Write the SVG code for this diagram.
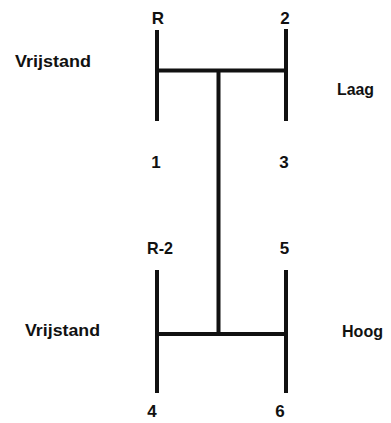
<svg xmlns="http://www.w3.org/2000/svg" width="391" height="423" viewBox="0 0 391 423">
<style>
.t{font-family:"Liberation Sans",Arial,sans-serif;font-weight:bold;font-size:17px;fill:#111;}
.c{text-anchor:middle;}
.l{stroke:#111;stroke-width:4;fill:none;stroke-linecap:butt;}
</style>
<rect width="391" height="423" fill="#fff"/>
<g id="connectors">
<line class="l" x1="157" y1="30" x2="157" y2="121"/>
<line class="l" x1="286" y1="29" x2="286" y2="121"/>
<line class="l" x1="157" y1="70.5" x2="286" y2="70.5"/>
<line class="l" x1="218.5" y1="70.5" x2="218.5" y2="334"/>
<line class="l" x1="157" y1="270" x2="157" y2="393"/>
<line class="l" x1="286" y1="270" x2="286" y2="393"/>
<line class="l" x1="157" y1="334" x2="286" y2="334"/>
</g>
<g id="label-R"><text class="t c" x="158" y="24">R</text></g>
<g id="label-2"><text class="t c" x="285" y="24">2</text></g>
<g id="label-vrijstand-top"><text class="t" x="15" y="67" textLength="76" lengthAdjust="spacingAndGlyphs">Vrijstand</text></g>
<g id="label-laag"><text class="t" x="337" y="95" textLength="37" lengthAdjust="spacingAndGlyphs">Laag</text></g>
<g id="label-1"><text class="t c" x="156" y="168">1</text></g>
<g id="label-3"><text class="t c" x="284" y="168">3</text></g>
<g id="label-R-2"><text class="t" x="147" y="254" textLength="26" lengthAdjust="spacingAndGlyphs">R-2</text></g>
<g id="label-5"><text class="t c" x="284.5" y="254">5</text></g>
<g id="label-vrijstand-bottom"><text class="t" x="25" y="336" textLength="75" lengthAdjust="spacingAndGlyphs">Vrijstand</text></g>
<g id="label-hoog"><text class="t" x="342" y="337" textLength="41" lengthAdjust="spacingAndGlyphs">Hoog</text></g>
<g id="label-4"><text class="t c" x="152" y="417">4</text></g>
<g id="label-6"><text class="t c" x="280" y="417">6</text></g>
</svg>
